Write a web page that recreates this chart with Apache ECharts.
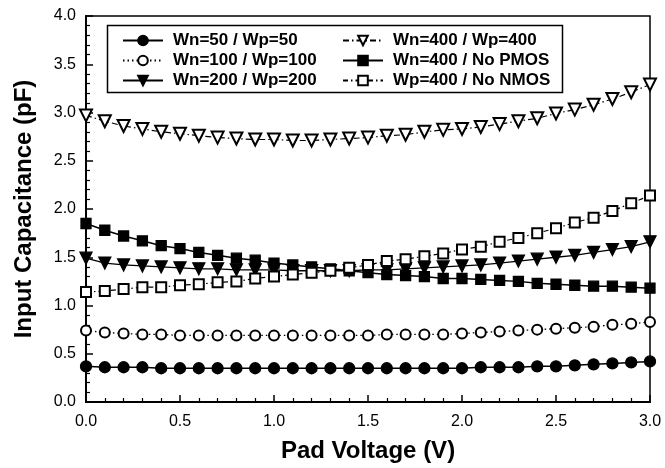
<!DOCTYPE html>
<html>
<head>
<meta charset="utf-8">
<script src="https://cdn.jsdelivr.net/npm/echarts@6/dist/echarts.min.js"></script>
<style>
html,body{margin:0;padding:0;background:#fff;}
#c{width:665px;height:468px;}
</style>
</head>
<body>
<div id="c"></div>
<script>
const xValues = [0.0,0.1,0.2,0.3,0.4,0.5,0.6,0.7,0.8,0.9,1.0,1.1,1.2,1.3,1.4,1.5,1.6,1.7,1.8,1.9,2.0,2.1,2.2,2.3,2.4,2.5,2.6,2.7,2.8,2.9,3.0];
const seriesNames = ['Wn=50 / Wp=50','Wn=100 / Wp=100','Wn=200 / Wp=200','Wn=400 / Wp=400','Wn=400 / No PMOS','Wp=400 / No NMOS'];
const wn50 = [0.37,0.36,0.36,0.36,0.35,0.35,0.35,0.35,0.35,0.35,0.35,0.35,0.35,0.35,0.35,0.35,0.35,0.35,0.35,0.35,0.35,0.36,0.36,0.36,0.37,0.37,0.38,0.39,0.40,0.41,0.42];
const wn100 = [0.74,0.72,0.71,0.70,0.70,0.69,0.69,0.69,0.69,0.69,0.69,0.69,0.69,0.69,0.69,0.69,0.70,0.70,0.70,0.70,0.71,0.72,0.73,0.74,0.75,0.76,0.77,0.78,0.80,0.81,0.83];
const wn200 = [1.49,1.44,1.42,1.41,1.40,1.39,1.38,1.38,1.37,1.37,1.37,1.36,1.36,1.36,1.36,1.37,1.37,1.38,1.39,1.40,1.41,1.42,1.44,1.46,1.48,1.50,1.52,1.55,1.58,1.61,1.66];
const wn400 = [2.97,2.91,2.86,2.83,2.80,2.78,2.76,2.74,2.73,2.72,2.72,2.71,2.71,2.72,2.73,2.74,2.76,2.77,2.80,2.82,2.83,2.85,2.88,2.91,2.94,2.99,3.03,3.08,3.14,3.21,3.29];
const noPmos = [1.85,1.78,1.72,1.67,1.62,1.59,1.55,1.52,1.49,1.47,1.44,1.42,1.40,1.38,1.36,1.34,1.32,1.31,1.30,1.28,1.28,1.27,1.26,1.25,1.23,1.22,1.21,1.20,1.20,1.19,1.18];
const noNmos = [1.14,1.15,1.17,1.19,1.19,1.21,1.22,1.24,1.25,1.28,1.30,1.32,1.34,1.36,1.39,1.42,1.46,1.48,1.51,1.54,1.58,1.61,1.66,1.70,1.75,1.80,1.86,1.91,1.98,2.06,2.14];

const FONT = '"Liberation Sans", Arial, Helvetica, sans-serif';
const pair = arr => xValues.map((x, i) => [x, arr[i]]);

function mk(name, data, symbol, size, rotate, lineType, width) {
  return {
    name: name, type: 'line', data: pair(data),
    symbol: symbol, symbolSize: size, symbolRotate: rotate,
    showSymbol: true, animation: false,
    lineStyle: { color: '#000', width: width, type: lineType },
    itemStyle: { color: '#000', borderColor: '#000', borderWidth: 1.3 },
    emphasis: { disabled: true }
  };
}

const chart = echarts.init(document.getElementById('c'), null, { renderer: 'canvas' });
const legendText = { color: '#000', fontFamily: FONT, fontWeight: 'bold', fontSize: 17, lineHeight: 14, padding: [0, 0, 0, 5] };
chart.setOption({
  backgroundColor: '#fff',
  animation: false,
  grid: { left: 86, right: 15, top: 16, bottom: 57, show: true, borderColor: '#000', borderWidth: 1.5, backgroundColor: 'transparent' },
  legend: [
    { data: seriesNames.slice(0, 3), orient: 'vertical', left: 117, top: 27, itemWidth: 40, itemHeight: 12, itemGap: 3, textStyle: legendText, selectedMode: false },
    { data: seriesNames.slice(3, 6), orient: 'vertical', left: 337, top: 27, itemWidth: 40, itemHeight: 12, itemGap: 3, textStyle: legendText, selectedMode: false }
  ],
  graphic: [{ type: 'rect', left: 105, top: 23, shape: { width: 455, height: 67 }, style: { fill: 'none', stroke: '#000', lineWidth: 1.5 }, z: 100 }],
  xAxis: {
    type: 'value', min: 0, max: 3, interval: 0.5,
    name: 'Pad Voltage (V)', nameLocation: 'middle', nameGap: 37,
    nameTextStyle: { color: '#000', fontFamily: FONT, fontWeight: 'bold', fontSize: 24 },
    axisLine: { show: true, onZero: false, lineStyle: { color: '#000', width: 2 } },
    axisTick: { show: true, inside: true, length: 7, lineStyle: { color: '#000', width: 1.5 } },
    minorTick: { show: true, splitNumber: 5, length: 4, lineStyle: { color: '#000', width: 1.2 } },
    axisLabel: { color: '#000', fontFamily: FONT, fontSize: 16, margin: 12, formatter: v => v.toFixed(1) },
    splitLine: { show: false }
  },
  yAxis: {
    type: 'value', min: 0, max: 4, interval: 0.5,
    name: 'Input Capacitance (pF)', nameLocation: 'middle', nameGap: 50,
    nameTextStyle: { color: '#000', fontFamily: FONT, fontWeight: 'bold', fontSize: 24 },
    axisLine: { show: true, onZero: false, lineStyle: { color: '#000', width: 2 } },
    axisTick: { show: true, inside: true, length: 7, lineStyle: { color: '#000', width: 1.5 } },
    minorTick: { show: true, splitNumber: 5, length: 4, lineStyle: { color: '#000', width: 1.2 } },
    axisLabel: { color: '#000', fontFamily: FONT, fontSize: 16, margin: 10, formatter: v => v.toFixed(1) },
    splitLine: { show: false }
  },
  series: [
    mk(seriesNames[0], wn50, 'circle', 11, 0, 'solid', 1.5),
    mk(seriesNames[1], wn100, 'emptyCircle', 10, 0, [1.5, 3], 1.3),
    mk(seriesNames[2], wn200, 'triangle', 12, 180, 'solid', 1.3),
    mk(seriesNames[3], wn400, 'emptyTriangle', 12, 180, [6, 3, 1.5, 3], 1.2),
    mk(seriesNames[4], noPmos, 'rect', 10, 0, 'solid', 1.5),
    mk(seriesNames[5], noNmos, 'emptyRect', 10, 0, [5, 3, 1.5, 3], 1.2)
  ]
});
</script>
</body>
</html>
